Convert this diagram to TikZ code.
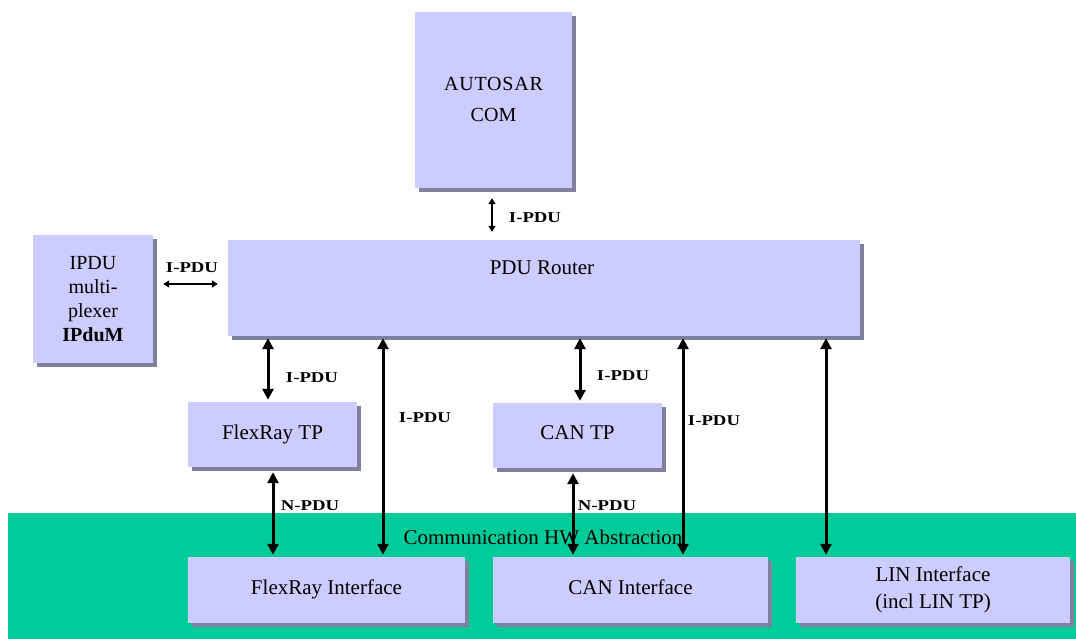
\documentclass[tikz,border=0pt]{standalone}
\usepackage{fontspec}
\usepackage{graphicx}
\setmainfont{Liberation Serif}
\usetikzlibrary{arrows.meta,shadows}
\definecolor{boxfill}{HTML}{CCCCFF}
\definecolor{boxshadow}{HTML}{7F7F9F}
\definecolor{hwgreen}{HTML}{00CC99}
\tikzset{
 blk/.style={fill=boxfill, inner sep=0pt, align=center, font=\fontsize{21}{27}\selectfont,
   drop shadow={shadow xshift=4pt, shadow yshift=-4pt, fill=boxshadow, opacity=1}},
 biarr/.style={line width=3pt, {Triangle[width=11pt,length=11pt]}-{Triangle[width=11pt,length=11pt]}},
 smallarr/.style={line width=2pt, {Triangle[width=7pt,length=6pt]}-{Triangle[width=7pt,length=6pt]}},
 pdu/.style={font=\bfseries\fontsize{15}{15}\selectfont, inner sep=0pt},
}
\newcommand{\pdulabel}[1]{\scalebox{1.25}[1]{#1}}
\begin{document}
\begin{tikzpicture}[x=1pt,y=-1pt]
\useasboundingbox (0,0) rectangle (1076,639);
% green band
\fill[hwgreen] (8,513) rectangle (1076,639);
\node[font=\fontsize{21}{24}\selectfont, inner sep=0pt] (hwtxt) at (543,537) {Communication HW Abstraction};

\node[blk, minimum width=157pt, minimum height=176pt, font=\fontsize{20}{29}\selectfont] (com) at (493.5,100) {\raisebox{4pt}{\addfontfeature{LetterSpace=4}AUTOSAR}\\\raisebox{2pt}{COM}};
\node[blk, minimum width=120pt, minimum height=128pt, font=\fontsize{20}{24}\selectfont] (mux) at (93,299) {IPDU\\multi-\\plexer\\\textbf{IPduM}};
\node[blk, minimum width=632pt, minimum height=96pt] (router) at (544,288) {};
\node[font=\fontsize{21}{24}\selectfont, inner sep=0pt] (routertxt) at (542,268) {PDU Router};
\node[blk, minimum width=169pt, minimum height=65pt] (frtp) at (272.5,434.5) {\raisebox{4pt}{FlexRay TP}};
\node[blk, minimum width=169pt, minimum height=65pt] (cantp) at (577.5,435.5) {\raisebox{6pt}{CAN TP}};
\node[blk, minimum width=277pt, minimum height=66pt] (frif) at (326.5,590) {\raisebox{6pt}{FlexRay Interface}};
\node[blk, minimum width=275pt, minimum height=66pt] (canif) at (630.5,590) {\raisebox{6pt}{CAN Interface}};
\node[blk, minimum width=274pt, minimum height=66pt] (linif) at (933,590) {\raisebox{-4pt}{LIN Interface}\\\raisebox{-4pt}{(incl LIN TP)}};

% x positions of connectors
\coordinate (xa) at (492,0);
\coordinate (xb) at (268,0);
\coordinate (xc) at (383,0);
\coordinate (xd) at (580,0);
\coordinate (xe) at (683,0);
\coordinate (xf) at (826,0);
\coordinate (xg) at (273,0);
\coordinate (xh) at (573,0);
\coordinate (ym) at (0,284);

\draw[smallarr, shorten <=10pt, shorten >=8pt] (com.south -| xa) -- (router.north -| xa);
\draw[smallarr, shorten <=10pt, shorten >=10pt] (mux.east |- ym) -- (router.west |- ym);
\draw[biarr, shorten <=2pt, shorten >=2pt] (router.south -| xb) -- (frtp.north -| xb);
\draw[biarr, shorten <=2pt, shorten >=2pt] (router.south -| xc) -- (frif.north -| xc);
\draw[biarr, shorten <=2pt, shorten >=2pt] (router.south -| xd) -- (cantp.north -| xd);
\draw[biarr, shorten <=2pt, shorten >=2pt] (router.south -| xe) -- (canif.north -| xe);
\draw[biarr, shorten <=2pt, shorten >=2pt] (router.south -| xf) -- (linif.north -| xf);
\draw[biarr, shorten <=5pt, shorten >=2pt] (frtp.south -| xg) -- (frif.north -| xg);
\draw[biarr, shorten <=5pt, shorten >=2pt] (cantp.south -| xh) -- (canif.north -| xh);

\node[pdu] (l1) at (535,218) {\pdulabel{I-PDU}};
\node[pdu] (l2) at (192,268) {\pdulabel{I-PDU}};
\node[pdu] (l3) at (312,378) {\pdulabel{I-PDU}};
\node[pdu] (l4) at (425,418) {\pdulabel{I-PDU}};
\node[pdu] (l5) at (623,376) {\pdulabel{I-PDU}};
\node[pdu] (l6) at (714,421) {\pdulabel{I-PDU}};
\node[pdu] (l7) at (310,506) {\pdulabel{N-PDU}};
\node[pdu] (l8) at (607,506) {\pdulabel{N-PDU}};
\end{tikzpicture}
\end{document}
